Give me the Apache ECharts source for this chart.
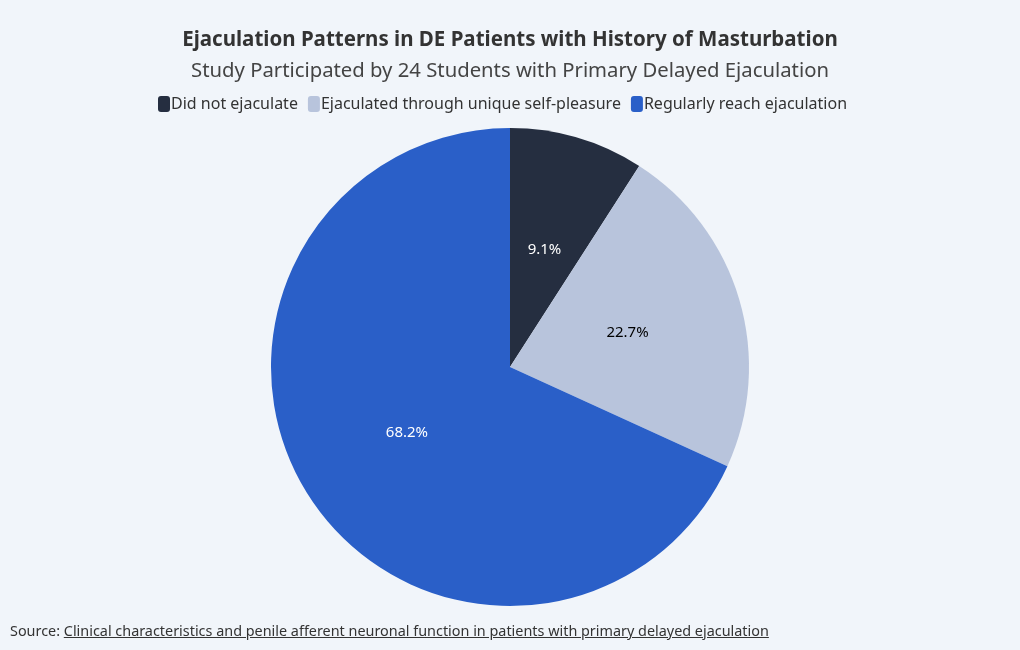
<!DOCTYPE html>
<html>
<head>
<meta charset="utf-8">
<script src="https://cdn.jsdelivr.net/npm/echarts@6/dist/echarts.min.js"></script>
<style>
html,body{margin:0;padding:0;background:#f1f5fa;}
#chart{width:1020px;height:650px;}
#src{position:absolute;left:10px;top:621px;font-family:"Noto Sans",Inter,sans-serif;font-size:14.4px;color:#333;}
#src a{color:#333;text-decoration:underline;}
</style>
</head>
<body>
<div id="chart"></div>
<div id="src">Source: <a>Clinical characteristics and penile afferent neuronal function in patients with primary delayed ejaculation</a></div>
<script>
const categories = ["Did not ejaculate", "Ejaculated through unique self-pleasure", "Regularly reach ejaculation"];
const values = [2, 5, 15];
const colors = ["#252e40", "#b8c4dc", "#2a5fc8"];
const labelColors = ["#ffffff", "#000000", "#ffffff"];

const chart = echarts.init(document.getElementById('chart'));
const font = '"Noto Sans", Inter, sans-serif';
chart.setOption({
  backgroundColor: '#f1f5fa',
  title: {
    text: 'Ejaculation Patterns in DE Patients with History of Masturbation',
    subtext: 'Study Participated by 24 Students with Primary Delayed Ejaculation',
    left: 'center',
    top: 25,
    itemGap: 10,
    textStyle: {fontFamily: font, fontSize: 20.5, fontWeight: 'bold', color: '#333'},
    subtextStyle: {fontFamily: font, fontSize: 20.3, color: '#444'}
  },
  legend: {
    top: 91,
    left: 153,
    itemWidth: 12,
    itemHeight: 16,
    itemGap: 10,
    icon: 'roundRect',
    textStyle: {fontFamily: font, fontSize: 16, color: '#333', padding: [0,0,0,-4]},
    data: categories
  },
  series: [{
    type: 'pie',
    center: [510, 367],
    radius: 239,
    startAngle: 90,
    clockwise: true,
    label: {
      position: 'inner',
      fontFamily: font,
      fontSize: 15,
      formatter: p => p.percent.toFixed(1) + '%'
    },
    labelLine: {show: false},
    emphasis: {scale: false},
    data: categories.map((c, i) => ({
      name: c,
      value: values[i],
      itemStyle: {color: colors[i]},
      label: {color: labelColors[i]}
    }))
  }]
});
</script>
</body>
</html>
